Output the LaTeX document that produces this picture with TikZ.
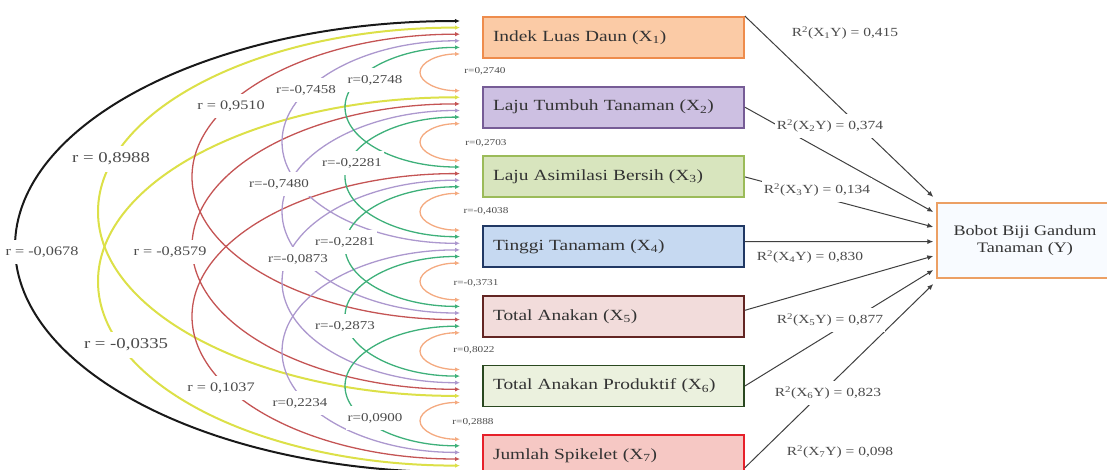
\documentclass[tikz,border=0pt]{standalone}
\usepackage{fontspec}
\setmainfont{Liberation Serif}[FakeStretch=1.25]
\usetikzlibrary{arrows.meta}
\usetikzlibrary{calc}

\definecolor{cblack}{RGB}{25,25,25}
\definecolor{cyellow}{RGB}{220,224,72}
\definecolor{cred}{RGB}{196,84,84}
\definecolor{cpurple}{RGB}{172,152,206}
\definecolor{cgreen}{RGB}{62,176,122}
\definecolor{corange}{RGB}{244,170,128}
\definecolor{xafill}{RGB}{251,203,166}
\definecolor{xadraw}{RGB}{238,140,76}
\definecolor{xbfill}{RGB}{205,192,226}
\definecolor{xbdraw}{RGB}{118,92,150}
\definecolor{xcfill}{RGB}{216,229,190}
\definecolor{xcdraw}{RGB}{155,187,89}
\definecolor{xdfill}{RGB}{198,217,241}
\definecolor{xddraw}{RGB}{32,56,100}
\definecolor{xefill}{RGB}{242,220,219}
\definecolor{xedraw}{RGB}{99,37,35}
\definecolor{xffill}{RGB}{235,241,222}
\definecolor{xfdraw}{RGB}{42,72,32}
\definecolor{xgfill}{RGB}{246,200,196}
\definecolor{xgdraw}{RGB}{230,32,42}
\definecolor{yfill}{RGB}{248,251,255}
\definecolor{ydraw}{RGB}{236,160,100}

\begin{document}
\begin{tikzpicture}[x=1pt,y=-1pt,
    box/.style={draw,line width=1.8pt,minimum width=261pt,minimum height=41pt,text width=241pt,inner xsep=10pt,
    align=left,text=black!80,font=\fontsize{15.5}{18}\selectfont},
    ybox/.style={draw=ydraw,fill=yfill,line width=1.4pt,minimum width=176pt,minimum height=75pt,align=center,
    text=black!80,font=\fontsize{14.5}{17}\selectfont},
    corr/.style={<->,>={Latex[length=5pt,width=4.5pt]}},
    rlab/.style={fill=white,inner xsep=2pt,inner ysep=7pt,text=black!70,font=\fontsize{12}{14}\selectfont},
    rlabbig/.style={rlab,font=\fontsize{13}{15}\selectfont},
    rlabhuge/.style={rlab,font=\fontsize{15}{17}\selectfont},
    rlabtiny/.style={inner sep=1pt,text=black!70,font=\fontsize{9}{10}\selectfont},
    rsq/.style={fill=white,inner xsep=2pt,inner ysep=6pt,text=black!70,font=\fontsize{12.4}{14}\selectfont},
    effect/.style={->,>={Latex[length=6pt,width=5pt]},line width=1pt,black!75}
    ]
    \def\T{17}    % top of first box
    \def\G{69.7}  % box pitch
    \def\E{460}   % x of arc ends

    \useasboundingbox (0,0) rectangle (1107,470);

    % variable boxes
    \foreach \num/\fc/\dc/\lab in {1/xafill/xadraw/{Indek Luas Daun (X\textsubscript{1})},
        2/xbfill/xbdraw/{Laju Tumbuh  Tanaman (X\textsubscript{2})},
        3/xcfill/xcdraw/{Laju Asimilasi  Bersih (X\textsubscript{3})},
        4/xdfill/xddraw/{Tinggi Tanamam (X\textsubscript{4})},
        5/xefill/xedraw/{Total Anakan (X\textsubscript{5})},
        6/xffill/xfdraw/{Total Anakan Produktif (X\textsubscript{6})},
        7/xgfill/xgdraw/{Jumlah Spikelet (X\textsubscript{7})}} {
        \node[box,fill=\fc,draw=\dc] (x\num) at (613.5,{\T+(\num-1)*\G+20.5}) {\lab};
    }
    \node[ybox] (y) at (1025,240.5) {Bobot Biji Gandum\\Tanaman (Y)};

    % correlation arcs
    \foreach \i/\j/\col/\lw in {1/7/cblack/2, 1/6/cyellow/2, 2/7/cyellow/2,
        1/5/cred/1.3, 2/6/cred/1.3, 3/7/cred/1.3,
        1/4/cpurple/1.3, 2/5/cpurple/1.3, 3/6/cpurple/1.3, 4/7/cpurple/1.3,
        1/3/cgreen/1.3, 2/4/cgreen/1.3, 3/5/cgreen/1.3, 4/6/cgreen/1.3, 5/7/cgreen/1.3,
        1/2/corange/1.3, 2/3/corange/1.3, 3/4/corange/1.3, 4/5/corange/1.3, 5/6/corange/1.3, 6/7/corange/1.3} {
        \pgfmathsetmacro\dd{\j-\i}
        \pgfmathsetmacro\ya{\T+(\i-1)*\G+4+6.6*(6-\dd)}
        \pgfmathsetmacro\yb{\T+(\j-1)*\G+4+6.6*(\dd-1)}
        \pgfmathsetmacro\rx{{40,115,178,268,362,445}[\dd-1]}
        \pgfmathsetmacro\ky{0.552*(\yb-\ya)/2}
        \coordinate (a\i\j) at (\E,\ya);
        \coordinate (b\i\j) at (\E,\yb);
        \coordinate (m\i\j) at ({\E-\rx},{(\ya+\yb)/2});
        \draw[corr,\col,line width=\lw pt] (a\i\j) .. controls +(-0.552*\rx,0) and +(0,-\ky) .. (m\i\j)
            .. controls +(0,\ky) and +(-0.552*\rx,0) .. (b\i\j);
    }

    % correlation values
    \node[rlabbig] (r17) at (42,252) {r = -0,0678};
    \node[rlabhuge] (r16) at (111,159) {r = 0,8988};
    \node[rlabhuge] (r27) at (126,345) {r = -0,0335};
    \node[rlabbig] (r15) at (231,106) {r = 0,9510};
    \node[rlabbig] (r26) at (170,252) {r = -0,8579};
    \node[rlabbig] (r37) at (221,388) {r = 0,1037};
    \node[rlab] (r14) at (306,90) {r=-0,7458};
    \node[rlab] (r25) at (279,184) {r=-0,7480};
    \node[rlab] (r36) at (298,259) {r=-0,0873};
    \node[rlab] (r47) at (300,403) {r=0,2234};
    \node[rlab] (r13) at (375,80) {r=0,2748};
    \node[rlab] (r24) at (352,163) {r=-0,2281};
    \node[rlab] (r35) at (345,242) {r=-0,2281};
    \node[rlab] (r46) at (345,326) {r=-0,2873};
    \node[rlab] (r57) at (375,418) {r=0,0900};
    \node[rlabtiny] (r12) at (485,71) {r=0,2740};
    \node[rlabtiny] (r23) at (486,143) {r=0,2703};
    \node[rlabtiny] (r34) at (486,211) {r=-0,4038};
    \node[rlabtiny] (r45) at (476,283) {r=-0,3731};
    \node[rlabtiny] (r56) at (474,350) {r=0,8022};
    \node[rlabtiny] (r67) at (473,422) {r=0,2888};

    % paths to Y
    \coordinate (t1) at ($(y.west)+(-3,-43.5)$);
    \coordinate (t2) at ($(y.west)+(-3,-28.5)$);
    \coordinate (t3) at ($(y.west)+(-3,-13.5)$);
    \coordinate (t4) at ($(y.west)+(-3,1.1)$);
    \coordinate (t5) at ($(y.west)+(-3,15.5)$);
    \coordinate (t6) at ($(y.west)+(-3,29.5)$);
    \coordinate (t7) at ($(y.west)+(-3,43.5)$);
    \draw[effect] (x1.north east) -- (t1);
    \draw[effect] (x2.east) -- (t2);
    \draw[effect] (x3.east) -- (t3);
    \draw[effect] ($(x4.east)+(0,-5)$) -- (t4);
    \draw[effect] ($(x5.east)+(0,-6)$) -- (t5);
    \draw[effect] (x6.east) -- (t6);
    \draw[effect] ($(x7.east)+(0,12)$) -- (t7);

    \node[rsq] (q1) at (845,33) {R\textsuperscript{2}(X\textsubscript{1}Y) = 0,415};
    \node[rsq] (q2) at (830,126) {R\textsuperscript{2}(X\textsubscript{2}Y) = 0,374};
    \node[rsq] (q3) at (817,190) {R\textsuperscript{2}(X\textsubscript{3}Y) = 0,134};
    \node[rsq] (q4) at (810,257) {R\textsuperscript{2}(X\textsubscript{4}Y) = 0,830};
    \node[rsq] (q5) at (830,320) {R\textsuperscript{2}(X\textsubscript{5}Y) = 0,877};
    \node[rsq] (q6) at (828,393) {R\textsuperscript{2}(X\textsubscript{6}Y) = 0,823};
    \node[rsq] (q7) at (840,452) {R\textsuperscript{2}(X\textsubscript{7}Y) = 0,098};
\end{tikzpicture}
\end{document}
